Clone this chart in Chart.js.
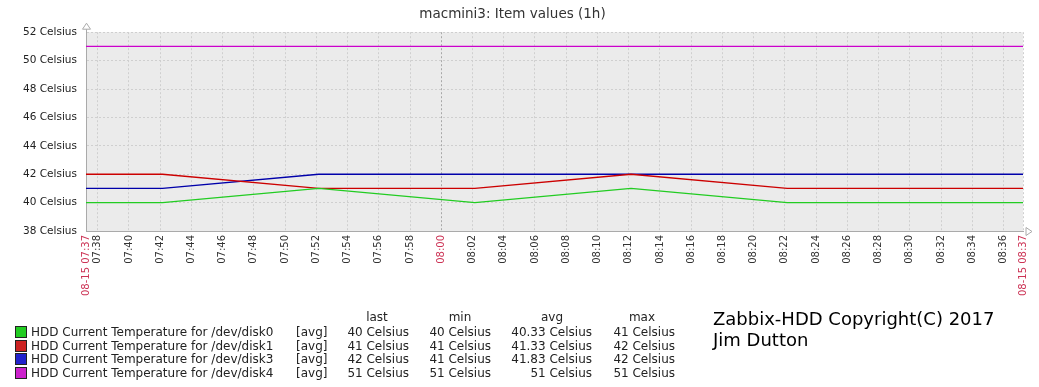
<!DOCTYPE html>
<html>
<head>
<meta charset="utf-8">
<script src="https://cdn.jsdelivr.net/npm/chart.js@4.4.0/dist/chart.umd.min.js"></script>
<style>
  body { margin: 0; background: #fff; }
  #wrap { position: relative; width: 1039px; height: 387px; font-family: "DejaVu Sans", sans-serif; color: #222; }
  #legend div { position: absolute; white-space: nowrap; font-size: 12px; line-height: 14px; }
  .sw { position: absolute; width: 10px; height: 10px; border: 1px solid #222; }
  .copy { position: absolute; font-size: 18px; line-height: 21px; color: #000; white-space: nowrap; }
</style>
</head>
<body>
<div id="wrap">
  <canvas id="chart" width="1039" height="387"></canvas>
  <div id="legend"></div>
  <div class="copy" style="left:713px;top:308px">Zabbix-HDD Copyright(C) 2017</div>
  <div class="copy" style="left:713px;top:329px">Jim Dutton</div>
</div>
<script>
// minutes after 07:37
var times = [0.25, 5.15, 15.15, 25.15, 35.15, 45.15, 55.15, 60.25];
var disk0 = [40, 40, 41, 40, 41, 40, 40, 40];
var disk1 = [42, 42, 41, 41, 42, 41, 41, 41];
var disk3 = [41, 41, 42, 42, 42, 42, 42, 42];
var disk4 = [51, 51, 51, 51, 51, 51, 51, 51];

var names = ['/dev/disk0', '/dev/disk1', '/dev/disk3', '/dev/disk4'];
var lastVals = ['40', '41', '42', '51'];
var minVals = ['40', '41', '41', '51'];
var avgVals = ['40.33', '41.33', '41.83', '51'];
var maxVals = ['41', '42', '42', '51'];

var lineColors = ['#22cc22', '#cc0000', '#0000aa', '#cc00cc'];
var swatchColors = ['#22cc22', '#cc2222', '#2222cc', '#cc22cc'];

var xMin = 0.25, xMax = 60.25;

function timeLabel(v) {
  if (v === xMin) return '08-15 07:37';
  if (v === xMax) return '08-15 08:37';
  var m = 37 + Math.round(v);
  var h = 7 + Math.floor(m / 60);
  m = m % 60;
  return (h < 10 ? '0' : '') + h + ':' + (m < 10 ? '0' : '') + m;
}

function series(vals) {
  var pts = [];
  for (var i = 0; i < times.length; i++) pts.push({x: times[i], y: vals[i]});
  return pts;
}

var plotBg = {
  id: 'plotBg',
  beforeDraw: function(chart) {
    var a = chart.chartArea, ctx = chart.ctx;
    ctx.save();
    ctx.fillStyle = '#ebebeb';
    ctx.fillRect(a.left, a.top, a.right - a.left, a.bottom - a.top);
    ctx.restore();
  },
  afterDraw: function(chart) {
    var a = chart.chartArea, ctx = chart.ctx;
    ctx.save();
    ctx.strokeStyle = '#aaa';
    ctx.fillStyle = '#fff';
    ctx.lineWidth = 1;
    // arrow on top of y axis
    ctx.beginPath();
    ctx.moveTo(a.left + 0.5, a.top - 9);
    ctx.lineTo(a.left - 3.5, a.top - 3);
    ctx.lineTo(a.left + 4.5, a.top - 3);
    ctx.closePath();
    ctx.fill(); ctx.stroke();
    ctx.beginPath();
    ctx.moveTo(a.left + 0.5, a.top - 3);
    ctx.lineTo(a.left + 0.5, a.top);
    ctx.stroke();
    // arrow at end of x axis
    ctx.beginPath();
    ctx.moveTo(a.right + 9, a.bottom + 0.5);
    ctx.lineTo(a.right + 3, a.bottom - 3.5);
    ctx.lineTo(a.right + 3, a.bottom + 4.5);
    ctx.closePath();
    ctx.fill(); ctx.stroke();
    ctx.restore();
  }
};

var ctx = document.getElementById('chart').getContext('2d');
var chart = new Chart(ctx, {
  type: 'line',
  data: {
    datasets: [
      {label: names[0], data: series(disk0), borderColor: lineColors[0]},
      {label: names[1], data: series(disk1), borderColor: lineColors[1]},
      {label: names[2], data: series(disk3), borderColor: lineColors[2]},
      {label: names[3], data: series(disk4), borderColor: lineColors[3]}
    ]
  },
  options: {
    responsive: false,
    animation: false,
    devicePixelRatio: 1,
    layout: {padding: {left: 0, right: 14, top: 0, bottom: 0}},
    elements: {
      line: {borderWidth: 1.4, tension: 0, fill: false},
      point: {radius: 0, hoverRadius: 0}
    },
    plugins: {
      legend: {display: false},
      tooltip: {enabled: false},
      title: {
        display: true,
        text: 'macmini3: Item values (1h)',
        color: '#333',
        font: {family: 'DejaVu Sans', size: 13.5, weight: 'normal'},
        padding: {top: 6, bottom: 10}
      }
    },
    scales: {
      x: {
        type: 'linear',
        min: xMin,
        max: xMax,
        afterBuildTicks: function(scale) {
          var t = [{value: xMin}];
          for (var v = 1; v <= 59; v += 2) t.push({value: v});
          t.push({value: xMax});
          scale.ticks = t;
        },
        afterFit: function(scale) { scale.height = 156; },
        ticks: {
          autoSkip: false,
          minRotation: 90,
          maxRotation: 90,
          padding: 4,
          font: {family: 'DejaVu Sans', size: 10},
          color: function(c) {
            var v = c.tick.value;
            return (v === xMin || v === xMax || v === 23) ? '#cc3355' : '#333';
          },
          callback: function(v) { return timeLabel(v); }
        },
        grid: {
          drawTicks: false,
          color: function(c) {
            var v = c.tick && c.tick.value;
            if (v === xMin) return 'rgba(0,0,0,0)';
            if (v === 23) return '#a8a8a8';
            return '#cfcfcf';
          }
        },
        border: {color: '#aaa', dash: [2, 2]}
      },
      y: {
        min: 38,
        max: 52,
        afterFit: function(scale) { scale.width = 86; },
        ticks: {
          stepSize: 2,
          padding: 9,
          font: {family: 'DejaVu Sans', size: 10.5},
          color: '#222',
          callback: function(v) { return v + ' Celsius'; }
        },
        grid: {
          drawTicks: false,
          color: function(c) {
            return (c.tick && c.tick.value === 38) ? 'rgba(0,0,0,0)' : '#cfcfcf';
          }
        },
        border: {color: '#aaa', dash: [2, 2]}
      }
    }
  },
  plugins: [plotBg]
});

// legend table under the chart
var legend = document.getElementById('legend');
function put(text, left, right, rowTop) {
  var d = document.createElement('div');
  d.textContent = text;
  d.style.top = rowTop + 'px';
  if (left !== null) d.style.left = left + 'px';
  if (right !== null) { d.style.right = (1039 - right) + 'px'; d.style.textAlign = 'right'; }
  legend.appendChild(d);
}
function putCenter(text, center, rowTop) {
  var d = document.createElement('div');
  d.textContent = text;
  d.style.top = rowTop + 'px';
  d.style.left = (center - 40) + 'px';
  d.style.width = '80px';
  d.style.textAlign = 'center';
  legend.appendChild(d);
}
putCenter('last', 377, 310);
putCenter('min', 460, 310);
putCenter('avg', 552, 310);
putCenter('max', 642, 310);
for (var i = 0; i < names.length; i++) {
  var rowY = 325 + i * 13.7;
  var sw = document.createElement('span');
  sw.className = 'sw';
  sw.style.left = '15px';
  sw.style.top = (rowY + 1) + 'px';
  sw.style.background = swatchColors[i];
  legend.appendChild(sw);
  put('HDD Current Temperature for ' + names[i], 31, null, rowY);
  put('[avg]', 296, null, rowY);
  put(lastVals[i] + ' Celsius', null, 409, rowY);
  put(minVals[i] + ' Celsius', null, 491, rowY);
  put(avgVals[i] + ' Celsius', null, 592, rowY);
  put(maxVals[i] + ' Celsius', null, 675, rowY);
}
</script>
</body>
</html>
